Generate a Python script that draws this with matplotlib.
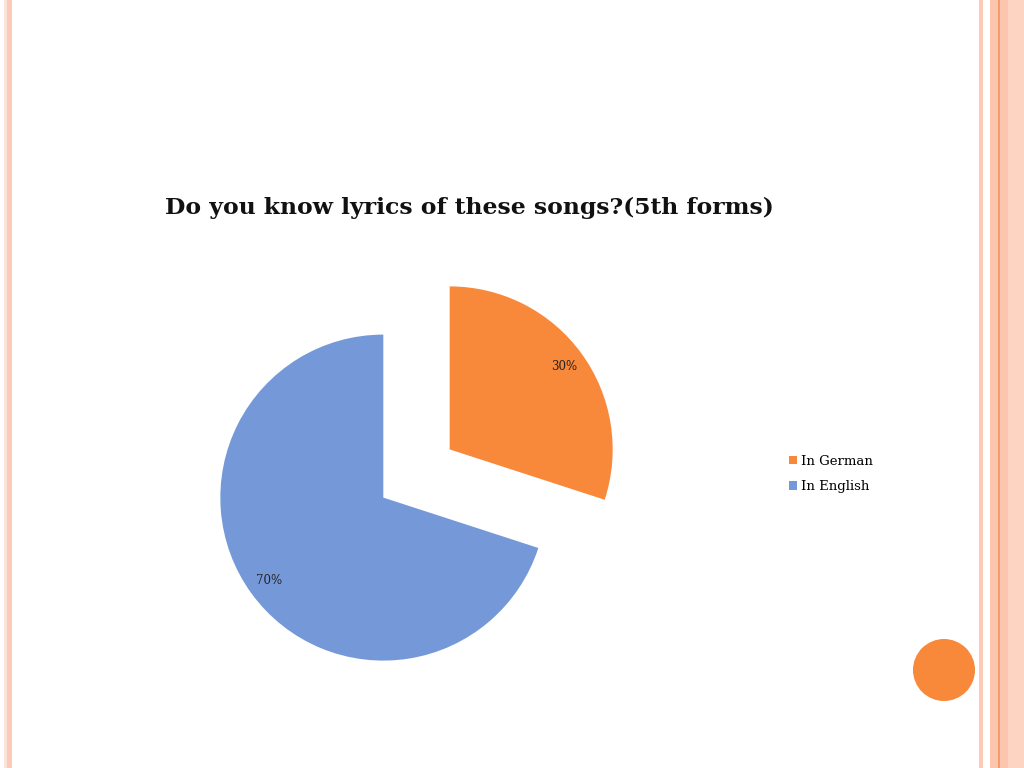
import matplotlib
matplotlib.use('Agg')
import matplotlib.pyplot as plt
from matplotlib.patches import Circle, Rectangle

#data:
categories = ['In German', 'In English']
shares = [30, 70]
sliceColors = ['#F8883A', '#7599D8']
title = 'Do you know lyrics of these songs?(5th forms)'

serif = ['DejaVu Serif']

fig = plt.figure(figsize=(10.24, 7.68), dpi=100)
ax = fig.add_axes([0, 0, 1, 1])
ax.set_xlim(0, 1024)
ax.set_ylim(768, 0)
ax.axis('off')

#slide border stripes
for x0, x1, c in [(4, 7, '#FBE3DA'), (7, 12, '#FCCBB6'),
                  (979, 983, '#FCCBB6'), (990, 998, '#FCC6AE'),
                  (998, 999.5, '#F59A6E'), (999.5, 1008, '#FCC6AE'),
                  (1008, 1024, '#FDD3C1')]:
    ax.add_patch(Rectangle((x0, 0), x1 - x0, 768, color=c, lw=0))

#orange dot
ax.add_patch(Circle((944, 670), 31, color='#F8883A', lw=0))

ax.text(469, 208, title, ha='center', va='center', fontsize=16.9,
        fontweight='bold', family=serif, color='#111111')

#pie in its own axes (pixel coords), explode is in data units here
pax = fig.add_axes([0, 0, 1, 1])
pax.set_xlim(0, 1024)
pax.set_ylim(0, 768)
pax.set_aspect('equal')
pax.axis('off')
wedges, texts, autotexts = pax.pie(
    shares, colors=sliceColors, startangle=90, counterclock=False,
    center=(416.5, 768 - 473.5), radius=163, explode=[41, 41],
    autopct='%d%%', pctdistance=0.87,
    wedgeprops={'linewidth': 0},
    textprops={'fontsize': 8.5, 'family': serif, 'color': '#222222'})
pax.set_xlim(0, 1024)
pax.set_ylim(0, 768)

leg = fig.legend(wedges, categories, loc='center left',
                 bbox_to_anchor=(777 / 1024, 1 - 474 / 768), frameon=False,
                 prop={'family': serif, 'size': 9.5},
                 handlelength=0.6, handleheight=0.6, handletextpad=0.3,
                 labelspacing=0.95)

fig.savefig('out.png', dpi=100)
